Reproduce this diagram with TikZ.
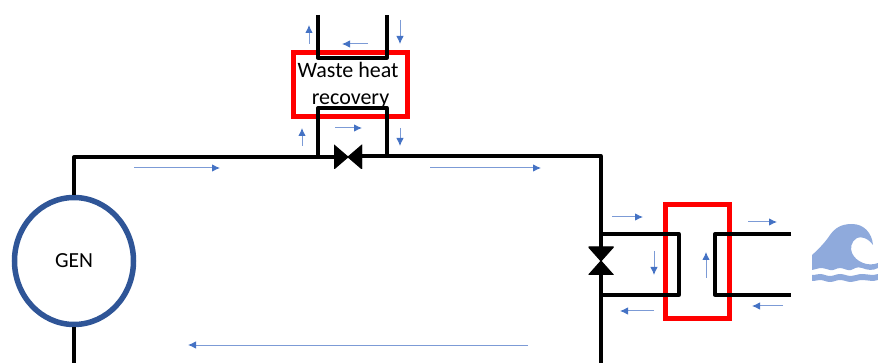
\documentclass[tikz,border=0pt]{standalone}
\usepackage{fontspec}
\setmainfont{Carlito}
\usetikzlibrary{arrows.meta,shapes.geometric}
\definecolor{genblue}{HTML}{2F5597}
\definecolor{flowline}{HTML}{7C9BD6}
\definecolor{flowhead}{HTML}{4472C4}
\definecolor{waveblue}{HTML}{8FAADC}

\begin{document}
\begin{tikzpicture}[
  x=1pt,
  y=-1pt,
  every node/.style={inner sep=0pt},
  pipe/.style={
    draw=black,
    line width=3.3pt,
    line join=round
  },
  flow/.style={
    -{Latex[length=8pt,width=7.5pt,color=flowhead]},
    draw=flowline,
    line width=1pt
  },
  generator/.style={
    ellipse,
    draw=genblue,
    fill=white,
    line width=5.5pt,
    minimum width=119pt,
    minimum height=127pt,
    font=\fontsize{21.5}{25}\selectfont
  },
  redbox/.style={
    rectangle,
    draw=red,
    line width=5pt,
    align=center
  },
  hvalve/.style={
    minimum width=28pt,
    minimum height=24pt,
    path picture={
      \filldraw[black,line width=1pt] (path picture bounding box.north west)
        -- (path picture bounding box.south west)
        -- (path picture bounding box.north east)
        -- (path picture bounding box.south east) -- cycle;
    }
  },
  vvalve/.style={
    minimum width=25pt,
    minimum height=28pt,
    path picture={
      \filldraw[black,line width=1pt] (path picture bounding box.north west)
        -- (path picture bounding box.north east)
        -- (path picture bounding box.south west)
        -- (path picture bounding box.south east) -- cycle;
    }
  }
]

\useasboundingbox (0,0) rectangle (878,363);

% Red boxes first, pipes run over them
\node[redbox,minimum width=114pt,minimum height=64pt,font=\fontsize{22}{27}\selectfont] (waste) at (350.5,85) {Waste heat\kern5pt\\recovery};
\node[redbox,minimum width=64pt,minimum height=114pt] (cooler) at (697.5,261.5) {};

% Generator and valves
\node[generator] (gen) at (74,261) {GEN};
\node[hvalve] (mainvalve) at (348,157) {};
\node[vvalve] (coolvalve) at (601,261) {};

% Pipe corners
\coordinate (topleft)  at (74,157);
\coordinate (valveout) at (362,156);
\coordinate (topright) at (601,156);
\coordinate (botleft)  at (74,363);
\coordinate (botright) at (601,363);

\coordinate (wasteA) at (318,157);
\coordinate (wasteB) at (318,108);
\coordinate (wasteC) at (387,108);
\coordinate (wasteD) at (387,156);
\coordinate (stackA) at (318,15);
\coordinate (stackB) at (318,58);
\coordinate (stackC) at (387,58);
\coordinate (stackD) at (387,15);

\coordinate (coolA) at (601,234);
\coordinate (coolB) at (679,234);
\coordinate (coolC) at (679,295);
\coordinate (coolD) at (601,295);
\coordinate (seaA) at (791,234);
\coordinate (seaB) at (715,234);
\coordinate (seaC) at (715,295);
\coordinate (seaD) at (791,295);

% Main loop
\draw[pipe] (gen.north) -- (topleft) -- (mainvalve);
\draw[pipe] (valveout) -- (topright) -- (coolvalve);
\draw[pipe] (coolvalve) -- (botright);
\draw[pipe] (gen.south) -- (botleft);

% Branches
\draw[pipe] (wasteA) -- (wasteB) -- (wasteC) -- (wasteD);
\draw[pipe] (stackA) -- (stackB) -- (stackC) -- (stackD);
\draw[pipe] (coolA) -- (coolB) -- (coolC) -- (coolD);
\draw[pipe] (seaA) -- (seaB) -- (seaC) -- (seaD);

% Flow arrows
\foreach \flowname/\xa/\ya/\xb/\yb in {
  topa/134/168/220/168, topb/430/168/541/168, bot/528/345/188/345,
  stackup/309/44/309/25, stackleft/368/44/342/44, stackdown/400/20/400/44,
  wasteup/302/146/302/128, wasteright/335/128/362/128, wastedown/400/128/400/146,
  coolright/612/217/643/217, cooldown/654/251/654/275, coolleft/654/311/620/311,
  seaup/706/278/706/252, searight/748/222/777/222, sealeft/783/306/752/306}{
  \coordinate (\flowname from) at (\xa,\ya);
  \coordinate (\flowname to) at (\xb,\yb);
  \draw[flow] (\flowname from) -- (\flowname to);
}

% Wave
\fill[waveblue] (812,270) -- (812,255) .. controls (820,248) and (826,241) .. (830,235)
  .. controls (835,228) and (841,224) .. (852,224)
  .. controls (864,224) and (872,233) .. (873,245)
  .. controls (868,238) and (861,236) .. (857,238)
  .. controls (851,241) and (850,249) .. (852,253)
  .. controls (856,262) and (868,267) .. (878,263) -- (878,268)
  .. controls (873,271) and (867,270) .. (862,268)
  .. controls (857,266) and (854,269) .. (851,270)
  .. controls (847,271) and (844,268) .. (840,268)
  .. controls (836,268) and (834,271) .. (830,270)
  .. controls (826,269) and (824,268) .. (820,268)
  .. controls (817,268) and (815,270) .. (812,270) -- cycle;
\fill[waveblue] (812,275) .. controls (816,275) and (817,274) .. (820,274)
  .. controls (824,274) and (826,276) .. (830,276)
  .. controls (834,276) and (836,274) .. (840,274)
  .. controls (844,274) and (847,276) .. (851,276)
  .. controls (855,276) and (857,274) .. (862,274)
  .. controls (867,274) and (873,276) .. (878,274)
  -- (878,280) .. controls (873,282) and (867,280) .. (862,280)
  .. controls (857,280) and (855,282) .. (851,282)
  .. controls (847,282) and (844,280) .. (840,280)
  .. controls (836,280) and (834,282) .. (830,282)
  .. controls (826,282) and (824,280) .. (820,280)
  .. controls (817,280) and (816,281) .. (812,281) -- cycle;

\end{tikzpicture}
\end{document}
